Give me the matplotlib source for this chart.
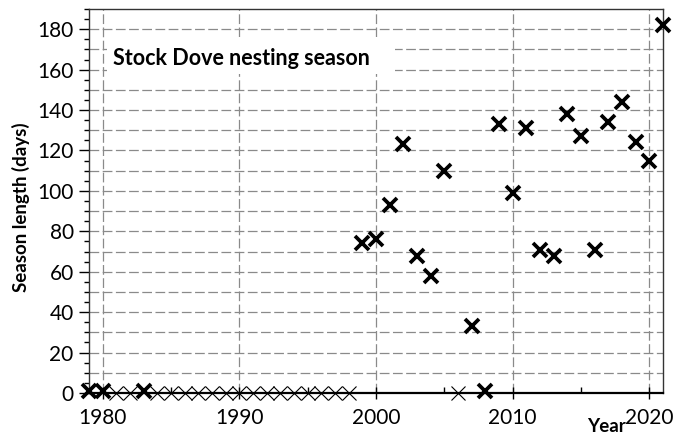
import numpy as np
import matplotlib
matplotlib.use("Agg")
import matplotlib.pyplot as plt
from matplotlib.ticker import MultipleLocator
from matplotlib.patches import Rectangle

# Nesting season length per year (days); 0 = no nesting recorded
years = list(range(1979, 2022))
season_days = [1, 1, 0, 0, 1,
               0, 0, 0, 0, 0, 0, 0, 0, 0, 0, 0, 0, 0, 0, 0,
               74, 76, 93, 123, 68, 58, 110, 0, 33, 1,
               133, 99, 131, 71, 68, 138, 127, 71, 134, 144, 124, 115, 182]

title = "Stock Dove nesting season"
x_label = "Year"
y_label = "Season length (days)"

plt.rcParams["font.family"] = ["Lato", "DejaVu Sans"]
plt.rcParams["lines.scale_dashes"] = False

fig = plt.figure(figsize=(6.75, 4.34), dpi=100)
ax = fig.add_axes([89 / 675, 41 / 434, 574 / 675, 384 / 434])

yrs = np.array(years)
vals = np.array(season_days)
zero = vals == 0

ax.plot(yrs[zero], vals[zero], linestyle="none", marker="x", markersize=10,
        markeredgewidth=0.8, color="black", clip_on=False, zorder=4)
ax.plot(yrs[~zero], vals[~zero], linestyle="none", marker="x", markersize=10.5,
        markeredgewidth=2.7, color="black", clip_on=False, zorder=5)

ax.set_xlim(1979, 2021)
ax.set_ylim(0, 190)

ax.xaxis.set_major_locator(MultipleLocator(10))
ax.xaxis.set_minor_locator(MultipleLocator(5))
ax.yaxis.set_major_locator(MultipleLocator(20))
ax.yaxis.set_minor_locator(MultipleLocator(5))

ax.tick_params(axis="x", which="major", direction="inout", length=8, width=1,
               pad=7, labelsize=15, colors="black")
ax.tick_params(axis="x", which="minor", direction="in", length=4, width=1)
ax.tick_params(axis="y", which="major", direction="out", length=7, width=1,
               pad=4, labelsize=15)
ax.tick_params(axis="y", which="minor", direction="out", length=3.5, width=1)

# dashed grid: vertical at decades, horizontal every 10 days
for x in range(1980, 2021, 10):
    ax.axvline(x, color="#8a8a8a", lw=0.9, dashes=(7, 2.5), zorder=1)
for y in range(10, 190, 10):
    ax.axhline(y, color="#8a8a8a", lw=0.9, dashes=(7, 2.5), zorder=1)

for side in ["left", "right", "top"]:
    ax.spines[side].set_linewidth(1.0)
    ax.spines[side].set_color("#333333")
ax.spines["bottom"].set_linewidth(1.6)
ax.spines["bottom"].set_color("black")

# white title panel inside the plot
ax.add_patch(Rectangle((0.031, 0.831), 0.502, 0.096, transform=ax.transAxes,
                       facecolor="white", edgecolor="none", zorder=2))
ax.text(0.041, 0.872, title, transform=ax.transAxes, ha="left", va="center",
        fontsize=15.5, fontweight="bold", zorder=3)

ax.set_xlabel(x_label, fontsize=13.5, fontweight="bold")
ax.xaxis.set_label_coords(0.902, -0.064)
ax.xaxis.label.set_verticalalignment("top")
ax.set_ylabel(y_label, fontsize=13.5, fontweight="bold")
ax.yaxis.set_label_coords(-0.102, 0.485)

fig.savefig("out.png", dpi=100)
